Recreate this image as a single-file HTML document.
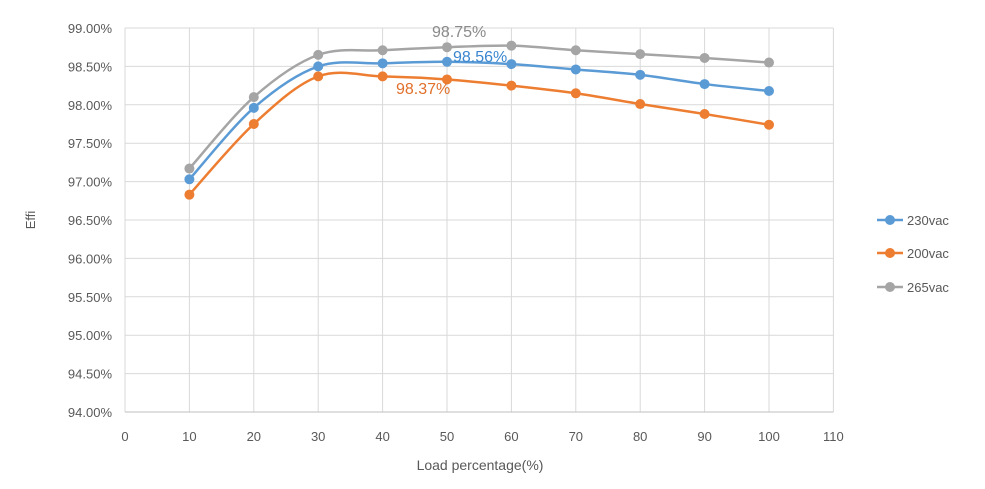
<!DOCTYPE html>
<html><head><meta charset="utf-8"><style>
html,body{margin:0;padding:0;background:#fff;}
svg text{font-family:"Liberation Sans",sans-serif;}
</style></head><body>
<svg id="s" width="985" height="484" xmlns="http://www.w3.org/2000/svg">
<g id="grid" stroke="#d9d9d9" stroke-width="1"></g>
<g id="lbl" fill="#595959" font-size="13"></g>
<text x="35" y="220" font-size="13" fill="#595959" transform="rotate(-90 35 220)" text-anchor="middle">Effi</text>
<text x="480" y="470" font-size="14" fill="#595959" text-anchor="middle">Load percentage(%)</text>
<g id="ser"></g>
<text x="432" y="37" font-size="16" fill="#8a8a8a">98.75%</text>
<text x="453" y="62" font-size="16" fill="#3a86d0">98.56%</text>
<text x="396" y="94" font-size="16" fill="#e0702a">98.37%</text>
<g font-size="13" fill="#595959">
<line x1="877" y1="220" x2="903" y2="220" stroke="#5b9bd5" stroke-width="2.5"/><circle cx="890" cy="220" r="5" fill="#5b9bd5"/><text x="907" y="225">230vac</text>
<line x1="877" y1="253" x2="903" y2="253" stroke="#ed7d31" stroke-width="2.5"/><circle cx="890" cy="253" r="5" fill="#ed7d31"/><text x="907" y="258">200vac</text>
<line x1="877" y1="287" x2="903" y2="287" stroke="#a5a5a5" stroke-width="2.5"/><circle cx="890" cy="287" r="5" fill="#a5a5a5"/><text x="907" y="292">265vac</text>
</g>
</svg>
<script>
var NS="http://www.w3.org/2000/svg";
function X(v){return 125+v*6.44;}
function Y(v){return 412-(v-94)*76.8;}
var g=document.getElementById('grid'),l=document.getElementById('lbl');
function el(p,t,a){var e=document.createElementNS(NS,t);for(var k in a)e.setAttribute(k,a[k]);p.appendChild(e);return e;}
for(var i=0;i<=10;i++){var v=94+i*0.5,y=Y(v);el(g,'line',{x1:125,x2:X(110),y1:y,y2:y});var t=el(l,'text',{x:112,y:y+5,'text-anchor':'end'});t.textContent=v.toFixed(2)+'%';}
for(var i=0;i<=11;i++){var x=X(i*10);el(g,'line',{x1:x,x2:x,y1:Y(99),y2:Y(94)});var t=el(l,'text',{x:x,y:441,'text-anchor':'middle'});t.textContent=i*10;}
el(g,'line',{x1:125,x2:X(110),y1:412,y2:412,stroke:'#bfbfbf'});
var data=[["#a5a5a5",[97.17,98.10,98.65,98.71,98.75,98.77,98.71,98.66,98.61,98.55]],
["#ed7d31",[96.83,97.75,98.37,98.37,98.33,98.25,98.15,98.01,97.88,97.74]],
["#5b9bd5",[97.03,97.96,98.50,98.54,98.56,98.53,98.46,98.39,98.27,98.18]]];
var s=document.getElementById('ser');
data.forEach(function(d){var p=d[1].map(function(v,i){return [X((i+1)*10),Y(v)];});
var dd="M"+p[0];for(var i=0;i<p.length-1;i++){var p0=p[i-1]||p[i],p1=p[i],p2=p[i+1],p3=p[i+2]||p2,k=1/6;
dd+=" C"+(p1[0]+(p2[0]-p0[0])*k)+","+(p1[1]+(p2[1]-p0[1])*k)+" "+(p2[0]-(p3[0]-p1[0])*k)+","+(p2[1]-(p3[1]-p1[1])*k)+" "+p2;}
el(s,'path',{d:dd,fill:'none',stroke:d[0],'stroke-width':2.5});
p.forEach(function(q){el(s,'circle',{cx:q[0],cy:q[1],r:5,fill:d[0]});});});
</script>
</body></html>
